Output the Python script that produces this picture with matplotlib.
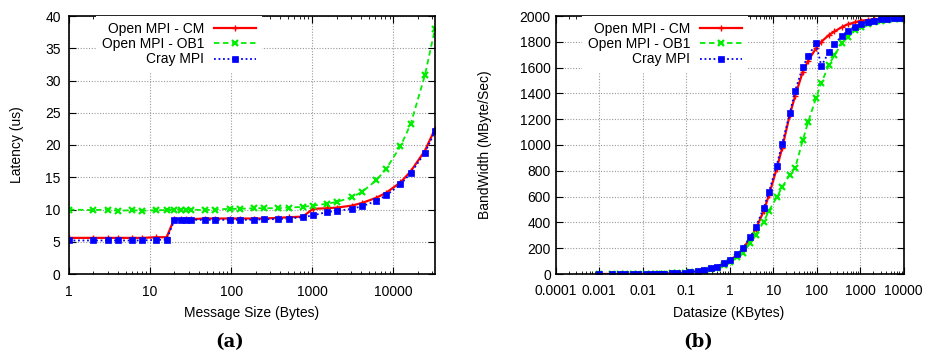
import matplotlib
matplotlib.use("Agg")
import matplotlib.pyplot as plt
import numpy as np
from matplotlib.ticker import FixedLocator, FixedFormatter, LogLocator, NullFormatter

plt.rcParams['font.family'] = ['Liberation Sans', 'DejaVu Sans']
plt.rcParams['font.size'] = 10

# ---------------- data ----------------
series_names = ["Open MPI - CM", "Open MPI - OB1", "Cray MPI"]

lat_sizes = [1, 2, 3, 4, 6, 8, 12, 16, 20, 24, 28, 32, 48, 64, 96, 128, 192, 256,
             384, 512, 768, 1024, 1536, 2048, 3072, 4096, 6144, 8192, 12288,
             16384, 24576, 32768]
lat_cm = [5.6, 5.6, 5.6, 5.6, 5.6, 5.6, 5.7, 5.7,
          8.6, 8.5, 8.6, 8.5, 8.6, 8.6, 8.6, 8.6, 8.6, 8.6, 8.7, 8.8, 8.9,
          10.1, 10.2, 10.3, 10.6, 11.0, 11.8, 12.6, 14.2, 15.9, 19.1, 22.5]
lat_ob1 = [10.0, 9.9, 10.0, 9.8, 9.9, 9.8, 9.9, 9.9,
           10.0, 10.0, 10.0, 10.0, 9.9, 10.0, 10.1, 10.1, 10.2, 10.2, 10.2, 10.3, 10.4,
           10.6, 10.9, 11.2, 11.9, 12.7, 14.5, 16.3, 19.8, 23.2, 30.8, 38.0]
lat_cray = [5.2, 5.2, 5.2, 5.2, 5.2, 5.2, 5.3, 5.3,
            8.4, 8.4, 8.4, 8.4, 8.4, 8.4, 8.4, 8.4, 8.4, 8.5, 8.5, 8.6, 8.8,
            9.1, 9.6, 9.8, 10.1, 10.5, 11.3, 12.2, 13.9, 15.6, 18.8, 22.1]

bw_bytes = [1, 2, 3, 4, 6, 8, 12, 16, 20, 24, 28, 32, 48, 64, 96, 128, 192, 256,
            384, 512, 768, 1024, 1536, 2048, 3072, 4096, 6144, 8192, 12288, 16384,
            24576, 32768, 49152, 65536, 98304, 131072, 196608, 262144, 393216,
            524288, 786432, 1048576, 1572864, 2097152, 3145728, 4194304, 6291456,
            8388608]
bw_cm = [0.2, 0.4, 0.5, 0.7, 1.1, 1.4, 2.1, 2.9, 2.3, 2.8, 3.3, 3.7, 5.6, 7.4,
         11, 15, 22, 29, 44, 58, 82,
         105, 148, 195, 280, 350, 485, 612, 815, 974, 1232, 1382, 1568, 1654,
         1749, 1801, 1853, 1880, 1915, 1935, 1952,
         1963, 1970, 1975, 1978, 1980, 1982, 1983]
bw_ob1 = [0.1, 0.2, 0.3, 0.4, 0.6, 0.8, 1.2, 1.6, 2.0, 2.4, 2.8, 3.2, 4.8, 6.4,
          9.5, 12.7, 19, 25, 38, 50, 72,
          95, 135, 165, 240, 300, 405, 490, 594, 672, 770, 822, 1039, 1181,
          1362, 1483, 1620, 1698, 1788, 1834, 1891,
          1912, 1940, 1950, 1962, 1968, 1973, 1976]
bw_cray = [0.2, 0.4, 0.6, 0.8, 1.1, 1.5, 2.3, 3.0, 2.3, 2.8, 3.3, 3.7, 5.6, 7.5,
           11, 15, 22, 29, 44, 57, 83,
           108, 152, 199, 289, 367, 509, 638, 840, 1008, 1245, 1421, 1607, 1690,
           1788, 1612, 1723, 1783, 1848, 1884, 1917,
           1938, 1956, 1964, 1974, 1977, 1982, 1982]

lat_xticks = [1, 10, 100, 1000, 10000]
lat_xticklabels = ["1", "10", "100", "1000", "10000"]
bw_xticks = [0.0001, 0.001, 0.01, 0.1, 1, 10, 100, 1000, 10000]
bw_xticklabels = ["0.0001", "0.001", "0.01", "0.1", "1", "10", "100", "1000", "10000"]

bw_kb = np.array(bw_bytes) / 1024.0

# ---------------- styles ----------------
styles = [
    dict(color='#ff0000', linestyle='-', linewidth=1.6, marker='+', markersize=4, markeredgewidth=1.0),
    dict(color='#00ee00', linestyle=(0, (3, 2)), linewidth=1.3, marker='x', markersize=5, markeredgewidth=1.6),
    dict(color='#0000ff', linestyle=(0, (1, 1.5)), linewidth=1.3, marker='s', markersize=4.5, markeredgewidth=0.5),
]

W, H = 926, 354
fig = plt.figure(figsize=(W / 100, H / 100), dpi=100)

def box(x0, x1, ytop, ybot):
    return [x0 / W, 1 - ybot / H, (x1 - x0) / W, (ybot - ytop) / H]

axA = fig.add_axes(box(69, 435, 16, 274))
axB = fig.add_axes(box(555.7, 903.7, 16, 274))

def style_axes(ax, ypad, xpad):
    ax.set_axisbelow(True)
    ax.grid(True, which='major', color='#999999', linestyle=(0, (1, 1.5)), linewidth=0.8)
    ax.tick_params(which='both', direction='in', top=True, right=True, labelsize=10)
    ax.tick_params(which='major', length=5, width=0.8)
    ax.tick_params(which='minor', length=2.5, width=0.6)
    ax.tick_params(axis='y', pad=ypad)
    ax.tick_params(axis='x', pad=xpad)
    for s in ax.spines.values():
        s.set_linewidth(1.2)

leg_kw = dict(loc='upper right', markerfirst=False, frameon=True, fancybox=False,
              edgecolor='none', facecolor='white', framealpha=1, borderaxespad=0,
              borderpad=0.45, labelspacing=0.08, handlelength=3.0, handletextpad=0.7,
              numpoints=1, fontsize=10)

# ---- (a) latency ----
for vals, name, st in zip([lat_cm, lat_ob1, lat_cray], series_names, styles):
    axA.plot(lat_sizes, vals, label=name, **st)
axA.set_xscale('log')
axA.set_xlim(1, 32768)
axA.set_ylim(0, 40)
axA.xaxis.set_major_locator(FixedLocator(lat_xticks))
axA.xaxis.set_major_formatter(FixedFormatter(lat_xticklabels))
axA.xaxis.set_minor_locator(LogLocator(base=10, subs=np.arange(2, 10), numticks=20))
axA.xaxis.set_minor_formatter(NullFormatter())
axA.set_yticks(np.arange(0, 41, 5))
style_axes(axA, 6, 8)
axA.legend(bbox_to_anchor=((262 - 69) / 366, 1.0), **leg_kw)

# ---- (b) bandwidth ----
for vals, name, st in zip([bw_cm, bw_ob1, bw_cray], series_names, styles):
    axB.plot(bw_kb, vals, label=name, **st)
axB.set_xscale('log')
axB.set_xlim(0.0001, 10000)
axB.set_ylim(0, 2000)
axB.xaxis.set_major_locator(FixedLocator(bw_xticks))
axB.xaxis.set_major_formatter(FixedFormatter(bw_xticklabels))
axB.xaxis.set_minor_locator(LogLocator(base=10, subs=np.arange(2, 10), numticks=30))
axB.xaxis.set_minor_formatter(NullFormatter())
axB.set_yticks(np.arange(0, 2001, 200))
style_axes(axB, 3.5, 7)
axB.legend(bbox_to_anchor=((748 - 555.7) / 348, 1.0), **leg_kw)

# ---- labels ----
fig.text(17 / W, 1 - 145 / H, "Latency (us)", rotation=90, ha='center', va='center', fontsize=10)
fig.text(252 / W, 1 - 313 / H, "Message Size (Bytes)", ha='center', va='center', fontsize=10)
fig.text(485 / W, 1 - 145 / H, "BandWidth (MByte/Sec)", rotation=90, ha='center', va='center', fontsize=10)
fig.text(729 / W, 1 - 313 / H, "Datasize (KBytes)", ha='center', va='center', fontsize=10)
fig.text(230 / W, 1 - 342 / H, "(a)", ha='center', va='center', fontsize=13,
         family=['DejaVu Serif'], weight='bold')
fig.text(698 / W, 1 - 342 / H, "(b)", ha='center', va='center', fontsize=13,
         family=['DejaVu Serif'], weight='bold')

fig.savefig("out.png", dpi=100)
